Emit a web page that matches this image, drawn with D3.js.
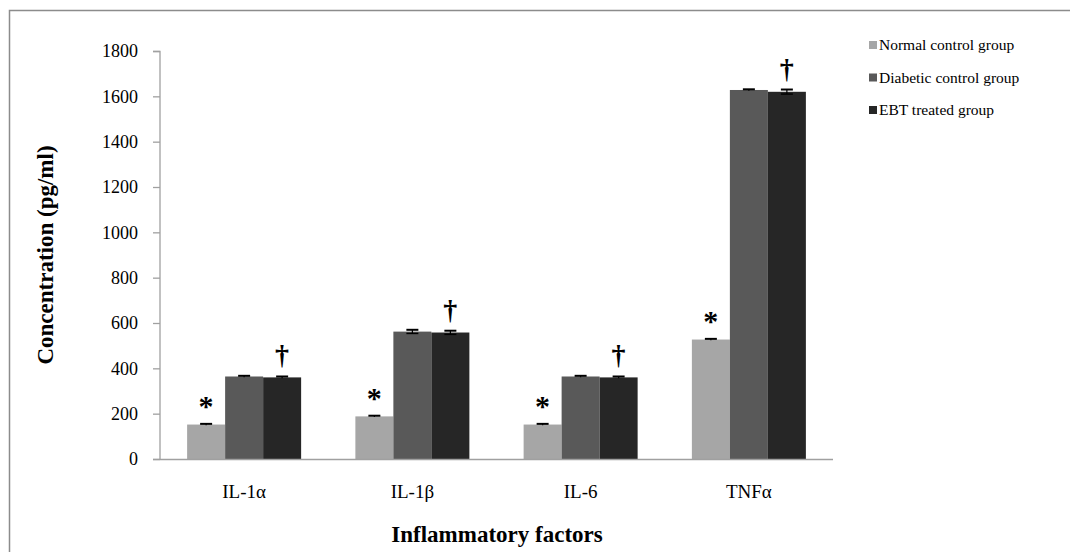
<!DOCTYPE html>
<html><head><meta charset="utf-8">
<script src="https://cdn.jsdelivr.net/npm/d3@7"></script>
<style>body{margin:0;background:#fff}svg{display:block}</style>
</head><body><svg id="c" width="1070" height="552"></svg>
<script>
const categories = ["IL-1\u03b1", "IL-1\u03b2", "IL-6", "TNF\u03b1"];
const seriesNames = ["Normal control group", "Diabetic control group", "EBT treated group"];
const normalValues = [152, 188, 152, 527];
const diabeticValues = [364, 562, 364, 1628];
const ebtValues = [360, 558, 360, 1620];
const normalErrors = [3, 3, 3, 3];
const diabeticErrors = [3, 8, 3, 3];
const ebtErrors = [4, 8, 4, 10];
const yTicks = [0, 200, 400, 600, 800, 1000, 1200, 1400, 1600, 1800];
const marks = ["*", null, "\u2020"];
const colors = ["#a6a6a6", "#595959", "#262626"];

const FONT = "'Liberation Serif','Times New Roman',serif";
const series = [normalValues, diabeticValues, ebtValues];
const errors = [normalErrors, diabeticErrors, ebtErrors];

const svg = d3.select("#c");
svg.append("path").attr("d", "M9.5,552 V10.5 H1070").attr("fill","none").attr("stroke","#8c8c8c").attr("stroke-width",1.5);

const x0 = d3.scaleBand().domain(categories).range([160, 833]).paddingInner(0.3224).paddingOuter(0.1612);
const x1 = d3.scaleBand().domain(d3.range(3)).range([0, x0.bandwidth()]);
const y = d3.scaleLinear().domain([0, 1800]).range([459, 51]);

const ya = svg.append("g").attr("transform","translate(160,0)")
  .call(d3.axisLeft(y).tickValues(yTicks).tickSize(7).tickPadding(15).tickFormat(d3.format("d")));
ya.attr("font-family", FONT);
ya.select(".domain").attr("stroke","#a0a0a0").attr("stroke-width",1.3).attr("d","M-7,51.5H0V459");
ya.selectAll(".tick line").attr("stroke","#a0a0a0").attr("stroke-width",1.3);
ya.selectAll(".tick text").style("font-family",FONT).style("font-size","18px").attr("fill","#000");

const groups = svg.append("g").selectAll("g").data(categories).join("g")
  .attr("transform", d => `translate(${x0(d)},0)`);
series.forEach((vals, s) => {
  groups.append("rect")
    .attr("x", x1(s)).attr("width", x1.bandwidth())
    .attr("y", (d,i) => y(vals[i])).attr("height", (d,i) => y(0) - y(vals[i]))
    .attr("fill", colors[s]);
  groups.each(function(d,i){
    const g = d3.select(this);
    const cx = x1(s) + x1.bandwidth()/2;
    const e = errors[s][i];
    g.append("line").attr("x1",cx).attr("x2",cx).attr("y1",y(vals[i]+e)).attr("y2",y(vals[i]-e)).attr("stroke","#000").attr("stroke-width",1.2);
    g.append("line").attr("x1",cx-6).attr("x2",cx+6).attr("y1",y(vals[i]+e)).attr("y2",y(vals[i]+e)).attr("stroke","#000").attr("stroke-width",2);
    if (e > 5) g.append("line").attr("x1",cx-6).attr("x2",cx+6).attr("y1",y(vals[i]-e)).attr("y2",y(vals[i]-e)).attr("stroke","#000").attr("stroke-width",1.5);
    if (marks[s]) {
      g.append("text").attr("x",cx).attr("y", y(vals[i]+e) - (s===0 ? 8 : 12))
        .attr("text-anchor","middle")
        .style("font-family",FONT)
        .style("font-size", s===0 ? "30px" : "28px").style("font-weight","bold")
        .text(marks[s]);
    }
  });
});

svg.append("line").attr("x1",153).attr("x2",833).attr("y1",459.5).attr("y2",459.5).attr("stroke","#a0a0a0").attr("stroke-width",1.5);
svg.append("g").selectAll("text").data(categories).join("text")
  .attr("x", d => x0(d) + x0.bandwidth()/2).attr("y", 498)
  .attr("text-anchor","middle").style("font-family",FONT).style("font-size","19px").text(d => d);

svg.append("text").attr("x",497).attr("y",542).attr("text-anchor","middle")
  .style("font-family",FONT).style("font-size","23px").style("font-weight","bold").text("Inflammatory factors");
svg.append("text").attr("transform","translate(53,255) rotate(-90)").attr("text-anchor","middle")
  .style("font-family",FONT).style("font-size","23px").style("font-weight","bold").text("Concentration (pg/ml)");

const lg = svg.append("g").selectAll("g").data(seriesNames).join("g")
  .attr("transform",(d,i)=>`translate(869,${45 + i*32.5})`);
lg.append("rect").attr("x",0).attr("y",-4).attr("width",8).attr("height",8).attr("fill",(d,i)=>colors[i]);
lg.append("text").attr("x",10).attr("y",5).style("font-family",FONT).style("font-size","15.5px").text(d=>d);
</script></body></html>
